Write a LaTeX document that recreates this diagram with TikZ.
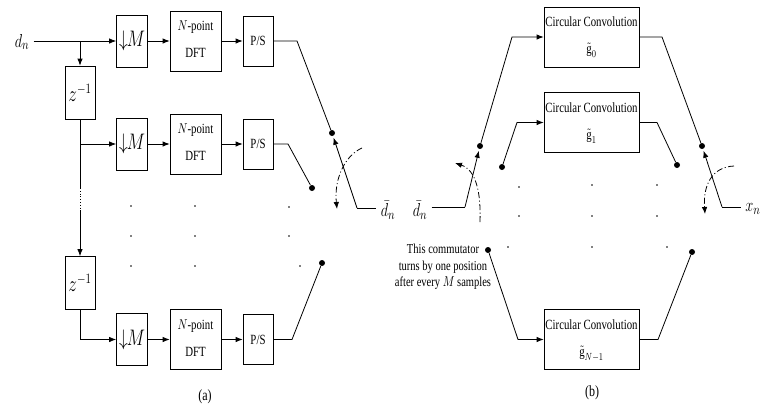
\documentclass[tikz,border=0pt]{standalone}
\usepackage{fontspec}
\setmainfont{Liberation Serif}
\usepackage{graphicx}
\usetikzlibrary{arrows.meta,calc}
\newcommand\tallt[1]{\scalebox{1}[1.3]{#1}}
\newcommand\twol[2]{\tallt{\begin{tabular}{@{}c@{}}#1\\[8pt]#2\end{tabular}}}
\begin{document}
\begin{tikzpicture}[x=1pt,y=-1pt,
  line width=0.8pt,
  box/.style={draw,inner sep=0pt,align=center,font=\fontsize{10.8}{12.8}\selectfont},
  mbox/.style={box,minimum width=31pt,minimum height=52pt},
  dftbox/.style={box,minimum width=51pt,minimum height=60pt},
  psbox/.style={box,minimum width=30pt,minimum height=50pt},
  zbox/.style={box,minimum width=30pt,minimum height=53pt},
  ccbox/.style={box,minimum width=95pt,minimum height=60pt},
  mlab/.style={inner sep=0pt,font=\fontsize{15}{18}\selectfont},
  txt/.style={inner sep=0pt,font=\fontsize{10.5}{12.6}\selectfont},
  cdot/.style={circle,fill,inner sep=0pt,minimum size=6pt},
  sdot/.style={circle,fill,inner sep=0pt,minimum size=1.8pt},
  arr/.style={-{Latex[length=7pt,width=5.5pt]}},
  dd/.style={dash pattern=on 6pt off 2.5pt on 1pt off 2.5pt},
]
\useasboundingbox (0,0) rectangle (767,408);

% ---------- (a) ----------
\node[mlab] (dn) at (22,42) {\tallt{$d_n$}};
\foreach \r/\y in {1/41,2/144,3/339.5}{
  \node[mbox] (m\r) at (132,\y) {\fontsize{18}{20}\selectfont\tallt{$\downarrow\!\!M$}};
  \node[dftbox] (dft\r) at (195.5,\y) {\twol{$N$-point}{DFT}};
  \node[psbox] (ps\r) at (258,\y) {\tallt{P/S}};
  \draw[arr] (m\r.east) -- (dft\r.west);
  \draw[arr] (dft\r.east) -- (ps\r.west);
}
\node[zbox] (z1) at (80,92.5) {\fontsize{16}{18}\selectfont\tallt{$z^{-1}$}};
\node[zbox] (z2) at (80,283) {\fontsize{16}{18}\selectfont\tallt{$z^{-1}$}};

\coordinate (br1) at (80,41);
\coordinate (br2) at (80,144);
\coordinate (v1) at (80,188);
\coordinate (v2) at (80,210);
\draw[arr] ($(dn.east |- m1.west)+(4,0)$) -- (m1.west);
\draw[arr] (br1) -- (z1.north);
\draw[arr] (z1.south) -- (br2) -- (m2.west);
\draw (br2) -- (v1);
\draw[dotted] (v1) -- (v2);
\draw[arr] (v2) -- (z2.north);
\draw[arr] (z2.south) |- (m3.west);

\node[cdot] (c1) at (332,133) {};
\node[cdot] (c2) at (312,188) {};
\node[cdot] (c3) at (322,263) {};
\coordinate (k1) at (297,41);
\coordinate (k2) at (288,144);
\coordinate (k3) at (292,339.5);
\draw (ps1.east) -- (k1) -- (c1);
\draw (ps2.east) -- (k2) -- (c2);
\draw (ps3.east) -- (k3) -- (c3);

\coordinate (ha) at (357,208);
\node[mlab] (dba) at (388,210) {\tallt{$\bar d_n$}};
\draw[arr] (ha) -- ($(c1)!5pt!(ha)$);
\draw (ha) -- ($(dba.west |- ha)+(-4,0)$);
\coordinate (aa1) at (362,148);
\coordinate (aa2) at (337,209);
\draw[dd,arr] (aa1) .. controls (344,156) and (334,180) .. (aa2);

\foreach \i/\x/\y in {1/131/206,2/131/236,3/131/266,4/195/206,5/195/236,6/195/266,7/289/207,8/289/236,9/300/266}
  \node[sdot] (sa\i) at (\x,\y) {};

\node[txt] (capa) at (205,397) {\fontsize{12}{14}\selectfont\tallt{(a)}};

% ---------- (b) ----------
\node[ccbox] (g0) at (591.5,37) {\twol{Circular Convolution}{$\tilde{\textrm{g}}_{0}$}};
\node[ccbox] (g1) at (591.5,122.5) {\twol{Circular Convolution}{$\tilde{\textrm{g}}_{1}$}};
\node[ccbox] (g2) at (591.5,339.5) {\twol{Circular Convolution}{$\tilde{\textrm{g}}_{N-1}$}};

\node[mlab] (dbb) at (420,210) {\tallt{$\bar d_n$}};
\coordinate (hb) at (465,207);
\node[cdot] (b1) at (480,146) {};
\node[cdot] (b2) at (502,167) {};
\node[cdot] (b3) at (488,250) {};
\draw ($(dbb.east |- hb)+(4,0)$) -- (hb);
\draw[arr] (hb) -- ($(b1)!5pt!(hb)$);
\coordinate (q1) at (512,37);
\coordinate (q2) at (517,122.5);
\coordinate (q3) at (518,339.5);
\draw[arr] (b1) -- (q1) -- (g0.west);
\draw[arr] (b2) -- (q2) -- (g1.west);
\draw[arr] (b3) -- (q3) -- (g2.west);
\coordinate (ab1) at (480,222);
\coordinate (ab2) at (455,163);
\draw[dd,arr] (ab1) .. controls (481,192) and (476,170) .. (ab2);

\node[cdot] (r1) at (702,146) {};
\node[cdot] (r2) at (677,165) {};
\node[cdot] (r3) at (692,252) {};
\coordinate (s1) at (662,37);
\coordinate (s2) at (657,122.5);
\coordinate (s3) at (658,339.5);
\draw (g0.east) -- (s1) -- (r1);
\draw (g1.east) -- (s2) -- (r2);
\draw (g2.east) -- (s3) -- (r3);
\coordinate (hr) at (722,207);
\node[mlab] (xn) at (753,209) {\tallt{$x_n$}};
\draw[arr] (hr) -- ($(r1)!5pt!(hr)$);
\draw (hr) -- ($(xn.west |- hr)+(-4,0)$);
\coordinate (ar1) at (734,166);
\coordinate (ar2) at (705,214);
\draw[dd,arr] (ar1) .. controls (712,167) and (703,185) .. (ar2);

\foreach \i/\x/\y in {1/519/187,2/519/216,3/508/247,4/592/185,5/592/216,6/592/247,7/657/185,8/657/216,9/667/247}
  \node[sdot] (sb\i) at (\x,\y) {};

\node[txt,align=center] (note) at (443,267) {\tallt{\begin{tabular}{@{}c@{}}This commutator\\turns by one position\\after every $M$ samples\end{tabular}}};

\node[txt] (capb) at (592,393) {\fontsize{12}{14}\selectfont\tallt{(b)}};
\end{tikzpicture}
\end{document}
